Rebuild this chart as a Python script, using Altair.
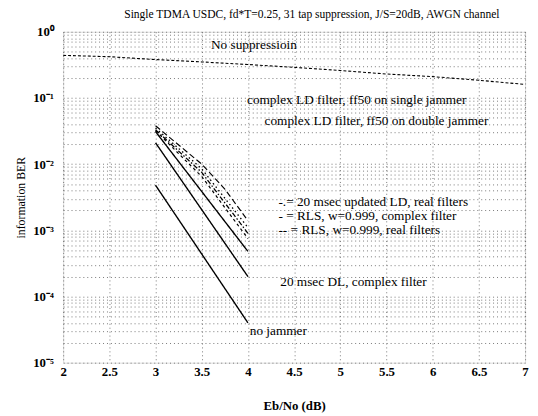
import altair as alt
import pandas as pd

# ---- data ----
x_two = [3, 4]
x_three = [3, 3.5, 4]
x_four = [3, 3.5, 3.75, 4]
no_jammer = [4.8e-3, 4.0e-5]
dl_complex = [2.1e-2, 2.0e-4]
ld_single = [3.1e-2, 4.8e-4]
ld_double = [3.5e-2, 8.5e-3, 1.1e-3]
ld_real_upd = [3.3e-2, 7.5e-3, 9.0e-4]
rls_complex = [3.2e-2, 6.5e-3, 7.5e-4]
rls_real = [3.8e-2, 1.0e-2, 4.2e-3, 1.4e-3]

no_supp_x = [2, 2.5, 3, 3.5, 4, 4.5, 5, 5.5, 6, 6.5, 7]
no_supp_y = [0.44, 0.42, 0.38, 0.35, 0.32, 0.29, 0.26, 0.23, 0.21, 0.185, 0.16]

series = [
    ("no jammer", x_two, no_jammer, "solid"),
    ("20 msec DL, complex filter", x_two, dl_complex, "solid"),
    ("complex LD single", x_two, ld_single, "solid"),
    ("complex LD double", x_three, ld_double, "dotted"),
    ("20 msec updated LD, real", x_three, ld_real_upd, "dashdot"),
    ("RLS complex", x_three, rls_complex, "dash"),
    ("RLS real", x_four, rls_real, "longdash"),
    ("No suppression", no_supp_x, no_supp_y, "nosupp"),
]

rows = []
for name, xs, ys, style in series:
    for x, y in zip(xs, ys):
        rows.append({"series": name, "x": x, "y": y, "style": style})
df = pd.DataFrame(rows)

labels_text = [
    "No suppressioin",
    "complex LD filter, ff50 on single jammer",
    "complex LD filter, ff50 on double jammer",
    "-.= 20 msec updated LD, real filters",
    " - = RLS, w=0.999, complex filter",
    "-- = RLS, w=0.999, real filters",
    "20 msec DL, complex filter",
    "no jammer",
]
labels_x = [3.6, 3.99, 4.18, 4.33, 4.33, 4.33, 4.35, 4.02]
labels_y = [0.62, 0.094, 0.044, 2.7e-3, 1.65e-3, 1.0e-3, 1.66e-4, 3.0e-5]
ann = pd.DataFrame({"t": labels_text, "x": labels_x, "y": labels_y})

x_ticks = [2, 2.5, 3, 3.5, 4, 4.5, 5, 5.5, 6, 6.5, 7]
y_ticks = []
for e in range(-5, 0):
    for m in range(1, 10):
        y_ticks.append(m * 10.0 ** e)
y_ticks.append(1.0)

FONT = "Liberation Serif"

label_expr = (
    "abs(log(datum.value)/LN10 - round(log(datum.value)/LN10)) > 1e-6 ? '' : "
    "round(log(datum.value)/LN10) == 0 ? '10\u2070' : "
    "round(log(datum.value)/LN10) == -1 ? '10\u207b\u00b9' : "
    "round(log(datum.value)/LN10) == -2 ? '10\u207b\u00b2' : "
    "round(log(datum.value)/LN10) == -3 ? '10\u207b\u00b3' : "
    "round(log(datum.value)/LN10) == -4 ? '10\u207b\u2074' : '10\u207b\u2075'"
)

xscale = alt.Scale(domain=[2, 7], nice=False, zero=False)
yscale = alt.Scale(type="log", domain=[1e-5, 1], nice=False)

xaxis = alt.Axis(
    values=x_ticks, format="~g", title="Eb/No (dB)", grid=True,
    gridDash=[1, 3], gridColor="#555", gridWidth=0.8,
    labelFont=FONT, labelFontSize=13, labelFontWeight="bold", labelColor="black",
    titleFont=FONT, titleFontSize=13, titleFontWeight="bold", titleColor="black",
    labelPadding=3, titlePadding=22, ticks=False, domain=False, labelFlush=False,
)
yaxis = alt.Axis(
    values=y_ticks, labelExpr=label_expr, title="information BER", grid=True,
    gridDash=[1, 3], gridColor="#555", gridWidth=0.8,
    labelFont=FONT, labelFontSize=13, labelFontWeight="bold", labelColor="black",
    titleFont=FONT, titleFontSize=12, titleFontWeight="normal", titleColor="black",
    labelPadding=10, titlePadding=5, ticks=False, domain=False, labelFlush=False,
)

style_domain = ["solid", "dotted", "dashdot", "dash", "longdash", "nosupp"]

lines = alt.Chart(df).mark_line(color="black", clip=True).encode(
    x=alt.X("x:Q", scale=xscale, axis=xaxis),
    y=alt.Y("y:Q", scale=yscale, axis=yaxis),
    detail="series:N",
    strokeDash=alt.StrokeDash(
        "style:N",
        scale=alt.Scale(
            domain=style_domain,
            range=[[1, 0], [1.5, 3], [5, 2, 1.5, 2], [3, 3], [6, 3], [3, 2]],
        ),
        legend=None,
    ),
    strokeWidth=alt.StrokeWidth(
        "style:N",
        scale=alt.Scale(domain=style_domain, range=[1.4, 1.1, 1.0, 1.0, 1.0, 1.1]),
        legend=None,
    ),
)

texts = alt.Chart(ann).mark_text(
    align="left", baseline="middle", font=FONT, fontSize=13.5, color="black"
).encode(
    x=alt.X("x:Q", scale=xscale),
    y=alt.Y("y:Q", scale=yscale),
    text="t:N",
)

chart = (
    alt.layer(lines, texts)
    .properties(
        width=469,
        height=336,
        title=alt.TitleParams(
            "Single TDMA USDC, fd*T=0.25, 31 tap suppression, J/S=20dB, AWGN channel",
            font=FONT, fontSize=11.7, fontWeight="normal", color="black",
            anchor="middle", offset=5, dx=18,
        ),
        autosize=alt.AutoSizeParams(type="none"),
        padding={"left": 56, "top": 21, "right": 5, "bottom": 51},
    )
    .configure_view(stroke="black", strokeWidth=1.2)
    .configure(background="white")
)

chart.save("out.html", embed_options={"renderer": "svg", "actions": False})
